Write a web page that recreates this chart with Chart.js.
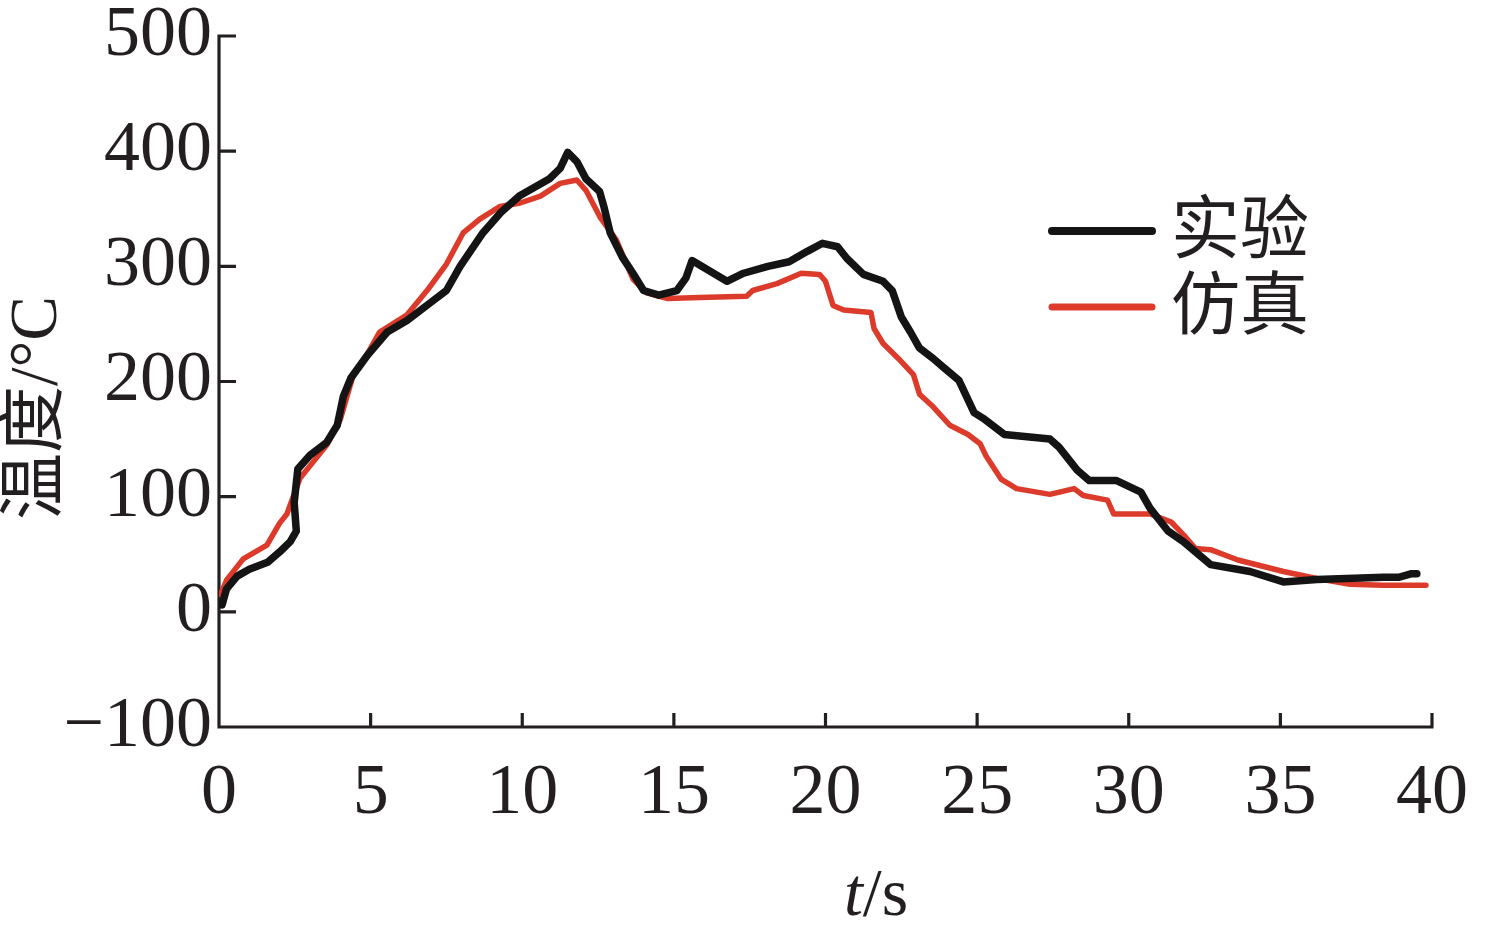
<!DOCTYPE html>
<html>
<head>
<meta charset="utf-8">
<script src="https://cdn.jsdelivr.net/npm/chart.js@4"></script>
<style>
  html, body { margin: 0; padding: 0; background: #ffffff; }
  #wrap { width: 1489px; height: 930px; }
</style>
</head>
<body>
<div id="wrap"><canvas id="c" width="1489" height="930"></canvas></div>
<script>
// ---------- data ----------
const seriesNames = ['实验', '仿真'];
const expTime = [0.1, 0.25, 0.6, 1.0, 1.6, 2.0, 2.35, 2.55, 2.48, 2.6, 3.0, 3.55, 3.9, 4.1, 4.35, 4.9, 5.55, 6.2, 7.05, 7.5, 7.95, 8.7, 9.3, 9.9, 10.9, 11.25, 11.5, 11.8, 12.1, 12.55, 12.7, 12.9, 13.3, 13.65, 14.0, 14.5, 15.1, 15.4, 15.6, 16.75, 17.3, 18.1, 18.8, 19.4, 19.9, 20.4, 20.7, 21.25, 21.9, 22.2, 22.5, 22.8, 23.1, 23.55, 23.9, 24.4, 24.9, 25.2, 25.9, 27.4, 27.7, 28.3, 28.7, 29.6, 30.4, 30.7, 31.3, 31.8, 32.2, 32.7, 34.0, 35.1, 36.2, 38.4, 38.9, 39.3, 39.5];
const expTemp = [6, 20, 31, 37, 43, 52, 61, 70, 95, 124, 136, 147, 162, 187, 203, 223, 243, 253, 270, 279, 300, 329, 347, 361, 376, 385, 399, 391, 376, 365, 351, 329, 308, 294, 279, 275, 279, 290, 305, 287, 294, 300, 304, 313, 320, 317, 307, 293, 287, 279, 256, 243, 229, 220, 212, 201, 173, 168, 154, 150, 143, 123, 114, 114, 104, 90, 70, 61, 52, 41, 35, 26, 28, 30, 30, 33, 33];
const simTime = [0.05, 0.26, 0.8, 1.58, 2.0, 2.24, 2.67, 3.1, 3.56, 4.0, 4.42, 4.87, 5.3, 6.2, 6.86, 7.5, 8.05, 8.6, 9.27, 9.93, 10.6, 11.25, 11.8, 12.1, 12.56, 13.1, 13.65, 14.1, 14.8, 15.85, 17.4, 17.6, 18.4, 19.2, 19.8, 20.0, 20.25, 20.6, 21.5, 21.6, 21.9, 22.4, 22.9, 23.1, 23.55, 24.1, 24.7, 25.1, 25.3, 25.8, 26.3, 27.4, 28.2, 28.5, 29.3, 29.5, 30.7, 31.4, 31.8, 32.2, 32.7, 33.6, 35.1, 36.2, 37.3, 38.4, 39.8];
const simTemp = [15, 28, 46, 58, 77, 85, 116, 130, 145, 167, 205, 223, 243, 258, 279, 302, 329, 341, 352, 355, 361, 372, 375, 366, 343, 323, 289, 277, 272, 273, 274, 279, 285, 294, 293, 287, 266, 262, 260, 246, 233, 220, 206, 189, 178, 162, 154, 146, 135, 115, 107, 102, 107, 101, 97, 85, 85, 78, 67, 55, 54, 45, 35, 29, 24, 23, 23];
const xTickValues = [0, 5, 10, 15, 20, 25, 30, 35, 40];
const yTickValues = [-100, 0, 100, 200, 300, 400, 500];
const xTitleItalic = 't';
const xTitleRest = '/s';
const yTitle = '温度/°C';

// ---------- styling ----------
const INK = '#231f20';
const LINE_COLORS = ['#141414', '#dc3b2b'];
const LINE_WIDTHS = [7.5, 5.5];
const TICK_FONT = { family: '"Liberation Serif", "Times New Roman", serif', size: 72, lineHeight: 1.2 };

function toPoints(xs, ys) { return xs.map((v, i) => ({ x: v, y: ys[i] })); }

const framePlugin = {
  id: 'frame',
  beforeDatasetsDraw(chart) {
    const { ctx, chartArea: a, scales: { x, y } } = chart;
    ctx.save();
    ctx.strokeStyle = INK;
    ctx.lineWidth = 3.2;
    ctx.lineCap = 'butt';
    ctx.beginPath();
    ctx.moveTo(a.left, a.top - 1.5);
    ctx.lineTo(a.left, a.bottom);
    ctx.lineTo(a.right + 1.5, a.bottom);
    y.ticks.forEach(t => {
      const p = y.getPixelForValue(t.value);
      ctx.moveTo(a.left, p); ctx.lineTo(a.left + 17, p);
    });
    x.ticks.forEach(t => {
      const p = x.getPixelForValue(t.value);
      ctx.moveTo(p, a.bottom); ctx.lineTo(p, a.bottom - 14);
    });
    ctx.stroke();
    ctx.restore();
  },
  afterDraw(chart) {
    const { ctx } = chart;
    ctx.save();
    // legend
    chart.data.datasets.forEach((ds, i) => {
      const yy = 231 + i * 76;
      ctx.strokeStyle = ds.borderColor;
      ctx.lineWidth = i === 0 ? 8 : 7;
      ctx.lineCap = 'round';
      ctx.beginPath();
      ctx.moveTo(1052, yy); ctx.lineTo(1152, yy);
      ctx.stroke();
      ctx.fillStyle = INK;
      ctx.font = '69px "Noto Sans CJK SC", sans-serif';
      ctx.textAlign = 'left';
      ctx.textBaseline = 'middle';
      ctx.fillText(ds.label, 1171, yy - 4);
    });
    // y title
    ctx.save();
    ctx.translate(38, 408);
    ctx.rotate(-Math.PI / 2);
    ctx.font = '67px "Liberation Serif", "Noto Sans CJK SC", serif';
    ctx.textAlign = 'center';
    ctx.textBaseline = 'middle';
    ctx.fillStyle = INK;
    ctx.fillText(yTitle, 0, 0);
    ctx.restore();
    // x title
    ctx.fillStyle = INK;
    ctx.textBaseline = 'alphabetic';
    ctx.textAlign = 'left';
    const fi = 'italic 68px "Liberation Serif", serif';
    const fn = '68px "Liberation Serif", serif';
    ctx.font = fi; const w1 = ctx.measureText(xTitleItalic).width;
    ctx.font = fn; const w2 = ctx.measureText(xTitleRest).width;
    const x0 = 876 - (w1 + w2) / 2;
    ctx.font = fi; ctx.fillText(xTitleItalic, x0, 915);
    ctx.font = fn; ctx.fillText(xTitleRest, x0 + w1, 915);
    ctx.restore();
  }
};

new Chart(document.getElementById('c'), {
  type: 'line',
  data: {
    datasets: [
      { label: seriesNames[0], data: toPoints(expTime, expTemp), borderColor: LINE_COLORS[0], borderWidth: LINE_WIDTHS[0] },
      { label: seriesNames[1], data: toPoints(simTime, simTemp), borderColor: LINE_COLORS[1], borderWidth: LINE_WIDTHS[1] }
    ]
  },
  options: {
    responsive: false,
    devicePixelRatio: 1,
    animation: false,
    layout: { padding: { left: 0, top: 36, right: 57, bottom: 0 } },
    elements: {
      point: { radius: 0 },
      line: { tension: 0, borderJoinStyle: 'round', borderCapStyle: 'round', fill: false }
    },
    plugins: { legend: { display: false }, tooltip: { enabled: false }, title: { display: false } },
    scales: {
      x: {
        type: 'linear', min: 0, max: 40,
        afterBuildTicks: s => { s.ticks = xTickValues.map(v => ({ value: v })); },
        afterFit: s => { s.height = 203; s.paddingLeft = 0; s.paddingRight = 0; },
        grid: { display: false, drawTicks: false },
        border: { display: false },
        ticks: { color: INK, font: TICK_FONT, padding: 24, maxRotation: 0, autoSkip: false }
      },
      y: {
        type: 'linear', min: -100, max: 500,
        afterBuildTicks: s => { s.ticks = yTickValues.map(v => ({ value: v })); },
        afterFit: s => { s.width = 219; s.paddingTop = 0; s.paddingBottom = 0; },
        grid: { display: false, drawTicks: false },
        border: { display: false },
        ticks: {
          color: INK, font: TICK_FONT, padding: 7, autoSkip: false,
          callback: v => String(v).replace('-', '\u2212')
        }
      }
    }
  },
  plugins: [framePlugin]
});
</script>
</body>
</html>
